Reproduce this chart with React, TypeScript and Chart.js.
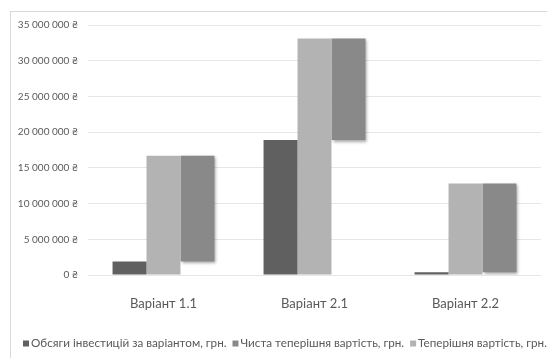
import React, { useEffect, useRef } from "react";
import { Chart, registerables } from "chart.js";

Chart.register(...registerables);

const categories = ["Варіант 1.1", "Варіант 2.1", "Варіант 2.2"];
const investments = [1900000, 18900000, 380000];
const presentValue = [16700000, 33100000, 12800000];
const netPresentValue = [14800000, 14200000, 12420000];
const seriesNames = [
  "Обсяги інвестицій за варіантом, грн.",
  "Теперішня вартість, грн.",
  "Чиста теперішня вартість, грн.",
];
const legendOrder = [0, 2, 1];
const yMin = 0;
const yMax = 35000000;
const yStep = 5000000;

const FONT = "Lato, 'Liberation Sans', sans-serif";
const TEXT = "#595959";

function fmt(v: number): string {
  return String(Math.round(v)).replace(/\B(?=(\d{3})+(?!\d))/g, " ") + " ₴";
}

export default function App() {
  const ref = useRef<HTMLCanvasElement | null>(null);
  useEffect(() => {
    if (!ref.current) return;
    const framePlugin = {
      id: "frame",
      beforeDraw(chart: any) {
        const ctx = chart.ctx;
        ctx.save();
        ctx.fillStyle = "#ffffff";
        ctx.fillRect(0, 0, chart.width, chart.height);
        ctx.strokeStyle = "#d9d9d9";
        ctx.lineWidth = 1;
        ctx.strokeRect(10.5, 11.5, chart.width + 20, chart.height + 20);
        ctx.restore();
      },
    };
    const shadowPlugin = {
      id: "shadow",
      beforeDatasetDraw(chart: any, args: any) {
        if (args.index !== 2) return;
        const ctx = chart.ctx;
        ctx.save();
        ctx.shadowColor = "rgba(0,0,0,0.35)";
        ctx.shadowBlur = 3;
        ctx.shadowOffsetX = 1.5;
        ctx.shadowOffsetY = 1.5;
      },
      afterDatasetDraw(chart: any, args: any) {
        if (args.index !== 2) return;
        chart.ctx.restore();
      },
    };
    const legendPlugin = {
      id: "customLegend",
      afterDraw(chart: any) {
        const ctx = chart.ctx;
        ctx.save();
        ctx.font = `11.7px ${FONT}`;
        ctx.textBaseline = "middle";
        let x = 23;
        const y = 343.5;
        for (const i of legendOrder) {
          const ds = chart.data.datasets[i];
          ctx.fillStyle = ds.backgroundColor;
          ctx.fillRect(x, y - 3, 6, 6);
          x += 8;
          ctx.fillStyle = TEXT;
          ctx.fillText(ds.label, x, y);
          x += ctx.measureText(ds.label).width + 6;
        }
        ctx.restore();
      },
    };
    const chart = new Chart(ref.current, {
      type: "bar",
      data: {
        labels: categories,
        datasets: [
          {
            label: seriesNames[0],
            data: investments,
            backgroundColor: "#606060",
          },
          {
            label: seriesNames[1],
            data: presentValue,
            backgroundColor: "#b3b3b3",
          },
          {
            label: seriesNames[2],
            data: investments.map((v, i) => [v, v + netPresentValue[i]]) as any,
            backgroundColor: "#898989",
          },
        ],
      },
      options: {
        responsive: false,
        animation: false,
        devicePixelRatio: 1,
        layout: { padding: { left: 10, top: 25, right: 6, bottom: 40 } },
        datasets: { bar: { categoryPercentage: 0.675, barPercentage: 1 } },
        plugins: {
          legend: { display: false },
          tooltip: { enabled: false },
        },
        scales: {
          x: {
            grid: { display: false },
            border: { display: false },
            ticks: {
              color: TEXT,
              font: { family: FONT, size: 13 },
              padding: 13,
            },
            afterFit(s: any) {
              s.height = 43;
            },
          },
          y: {
            min: yMin,
            max: yMax,
            border: { display: false },
            grid: { color: "#e6e6e6", drawTicks: false },
            ticks: {
              stepSize: yStep,
              color: TEXT,
              font: { family: FONT, size: 10 },
              padding: 10,
              callback: (v: any) => fmt(Number(v)),
            },
            afterFit(s: any) {
              s.width = 78;
            },
          },
        },
      },
      plugins: [framePlugin, shadowPlugin, legendPlugin],
    });
    return () => chart.destroy();
  }, []);
  return (
    <div style={{ position: "fixed", left: 0, top: 0, width: 547, height: 358, overflow: "hidden", background: "#fff" }}>
      <canvas ref={ref} width={547} height={358} style={{ display: "block", width: 547, height: 358 }} />
    </div>
  );
}
